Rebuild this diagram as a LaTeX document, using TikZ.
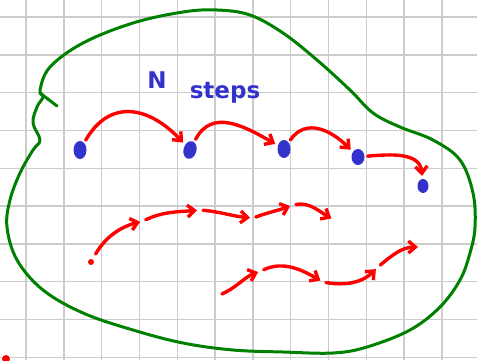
\documentclass[tikz,border=0pt]{standalone}
\usepackage{fontspec}
\setmainfont{DejaVu Sans}
\usetikzlibrary{positioning,arrows.meta,shapes.geometric}
\definecolor{inkred}{RGB}{255,0,0}
\definecolor{inkblue}{RGB}{51,51,204}
\definecolor{inkgreen}{RGB}{0,128,0}
\tikzset{
  gridln/.style={line width=1.4pt,black!20},
  blob/.style={line width=3pt,inkgreen,line cap=round,line join=round},
  dot/.style={ellipse,fill=inkblue,minimum width=13pt,minimum height=18pt,inner sep=0pt},
  rdot/.style={circle,fill=inkred,minimum size=6pt,inner sep=0pt},
  hop/.style={-{Straight Barb[length=7pt,width=12pt,line width=3.4pt]},line width=3.4pt,
    inkred,line cap=round,shorten <=3pt,shorten >=3pt},   % one red step
  scrawl/.style={inkblue,font=\fontsize{23}{23}\selectfont\bfseries},
}
\begin{document}
\begin{tikzpicture}[x=1pt,y=1pt]
  \useasboundingbox (0,0) rectangle (477,360);
  \fill[white] (0,0) rectangle (477,360);
  % squared paper
  \foreach \i in {0,...,11}{\draw[gridln] ({26+37.8*\i},0)--++(0,360);}
  \foreach \j in {0,...,9}{\draw[gridln] (0,{343-37.8*\j})--++(477,0);}
  % the set
  \draw[blob] plot[smooth cycle,tension=0.6] coordinates{
    (40,270) (50,293) (83,317) (133,337) (183,348) (217,350) (250,345) (283,327)
    (317,300) (350,270) (373,247) (400,233) (433,220) (460,200) (473,167) (475,133)
    (470,107) (460,80) (440,53) (410,30) (367,13) (333,7) (283,8) (233,10) (183,17)
    (133,30) (83,47) (43,70) (17,100) (7,133) (10,160) (20,187) (33,210) (40,220)
    (33,237) (37,253) (43,263)};
  \draw[blob] (40,267)--(57,254);
  \fill[inkred] (6,1) circle (4);
  % label
  \node[scrawl] (lbln) at (157,280) {N};
  \node[scrawl] (lbls) at (225,267) {steps};
  % top row: N steps between points
  \node[dot] (d1) at (80,210) {};
  \node[dot,rotate=-15] (d2) at (190,210) {};
  \node[dot] (d3) at (284,211) {};
  \node[dot,minimum height=16pt] (d4) at (358,203) {};
  \node[dot,minimum width=11pt,minimum height=14pt] (d5) at (423,174) {};
  \draw[hop] (d1) to[out=60,in=135,looseness=1.3] (d2);
  \draw[hop] (d2) to[out=65,in=150,looseness=1.2] (d3);
  \draw[hop] (d3) to[out=55,in=135,looseness=1.2] (d4);
  \draw[hop] (d4) to[out=5,in=95,looseness=1.1] (d5);
  % middle row
  \node[rdot] (m0) at (91,98) {};
  \coordinate (m1) at (143,139);
  \coordinate (m2) at (200,150);
  \coordinate (m3) at (253,142);
  \coordinate (m4) at (293,155);
  \coordinate (m5) at (334,140);
  \draw[hop,shorten <=6pt] (m0) to[out=60,in=195] (m1);
  \draw[hop] (m1) to[out=25,in=185] (m2);
  \draw[hop] (m2) to[out=-5,in=175] (m3);
  \draw[hop] (m3) to[out=20,in=200] (m4);
  \draw[hop] (m4) to[out=10,in=150] (m5);
  % bottom row
  \coordinate (n0) at (222,66);
  \coordinate (n1) at (261,89);
  \coordinate (n2) at (323,78);
  \coordinate (n3) at (378,93);
  \coordinate (n4) at (421,113);
  \draw[hop,shorten <=0pt] (n0) to[out=25,in=200] (n1);
  \draw[hop] (n1) to[out=25,in=150] (n2);
  \draw[hop] (n2) to[out=-10,in=225] (n3);
  \draw[hop] (n3) to[out=40,in=180] (n4);
\end{tikzpicture}
\end{document}
